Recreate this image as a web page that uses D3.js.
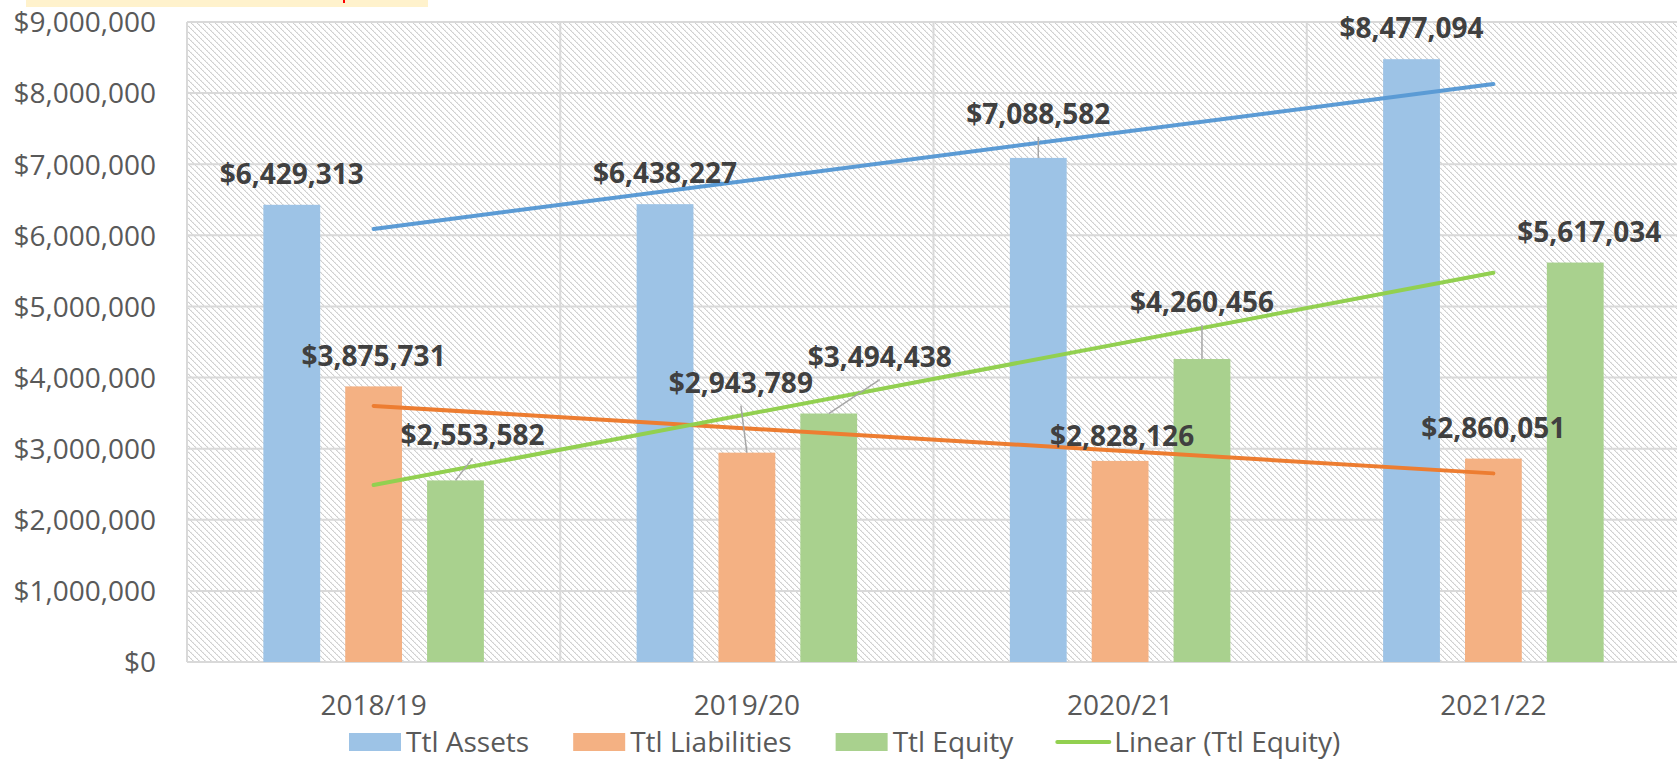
<!DOCTYPE html>
<html>
<head>
<meta charset="utf-8">
<script src="https://cdn.jsdelivr.net/npm/d3@7"></script>
<style>
  html, body { margin: 0; padding: 0; background: #fff; }
  svg { display: block; }
</style>
</head>
<body>
<svg id="chart" width="1677" height="761"></svg>
<script>
// ---------------- data ----------------
const categories = ["2018/19", "2019/20", "2020/21", "2021/22"];
const seriesNames = ["Ttl Assets", "Ttl Liabilities", "Ttl Equity"];
const assets = [6429313, 6438227, 7088582, 8477094];
const liabilities = [3875731, 2943789, 2828126, 2860051];
const equity = [2553582, 3494438, 4260456, 5617034];
const yTicks = [0, 1000000, 2000000, 3000000, 4000000, 5000000, 6000000, 7000000, 8000000, 9000000];
const trendLegendLabel = "Linear (Ttl Equity)";

// ---------------- styling / layout ----------------
const barColors = ["#9DC3E6", "#F4B183", "#A9D18E"];
const trendColors = ["#5B9BD5", "#ED7D31", "#92D050"];
// manual data-label shifts (pixels, relative to default outside-end position)
const labelShiftAssets = [[0, 0], [0, 0], [0, -13], [0, 0]];
const labelShiftLiabilities = [[0, 1], [-6, -39], [2, 6], [0, 0]];
const labelShiftEquity = [[17, -14], [51, -26], [0, -26], [14, 0]];

const series = [
  { name: seriesNames[0], values: assets, color: barColors[0], trend: trendColors[0], shift: labelShiftAssets },
  { name: seriesNames[1], values: liabilities, color: barColors[1], trend: trendColors[1], shift: labelShiftLiabilities },
  { name: seriesNames[2], values: equity, color: barColors[2], trend: trendColors[2], shift: labelShiftEquity }
];

const svg = d3.select("#chart");
const plot = { left: 187, right: 1680, top: 22, bottom: 662 };

const x0 = d3.scaleBand().domain(categories).range([plot.left, plot.right]).paddingInner(0).paddingOuter(0);
const x1 = d3.scaleBand().domain(seriesNames).range([0, x0.bandwidth()]).paddingInner(0.306).paddingOuter(0.933);
const y = d3.scaleLinear().domain([0, 9000000]).range([plot.bottom, plot.top]);

// top decorative header strip (cut off above the visible area)
svg.append("rect").attr("x", 26).attr("y", 0).attr("width", 402).attr("height", 7).attr("fill", "#FFF2CC");
svg.append("rect").attr("x", 343).attr("y", 0).attr("width", 2).attr("height", 3).attr("fill", "#FF0000");

// pattern background (light downward diagonal)
const defs = svg.append("defs");
const pat = defs.append("pattern").attr("id", "hatch").attr("patternUnits", "userSpaceOnUse")
  .attr("width", 6).attr("height", 6);
pat.append("rect").attr("width", 6).attr("height", 6).attr("fill", "#ffffff");
for (let r = 0; r < 6; r++) {
  pat.append("rect").attr("x", r).attr("y", r).attr("width", 1).attr("height", 1).attr("fill", "#d0d0d0");
  pat.append("rect").attr("x", (r + 1) % 6).attr("y", r).attr("width", 1).attr("height", 1)
    .attr("fill", r % 2 === 0 ? "#e6e6e6" : "#f6f6f6");
}

svg.append("rect").attr("x", plot.left).attr("y", plot.top)
  .attr("width", plot.right - plot.left).attr("height", plot.bottom - plot.top)
  .attr("fill", "url(#hatch)");

// gridlines
const grid = svg.append("g").attr("stroke", "#D9D9D9").attr("stroke-width", 2);
yTicks.forEach(t => {
  grid.append("line").attr("x1", plot.left).attr("x2", plot.right).attr("y1", y(t)).attr("y2", y(t));
});
categories.forEach(c => {
  grid.append("line").attr("x1", x0(c)).attr("x2", x0(c)).attr("y1", plot.top).attr("y2", plot.bottom);
});

// y axis labels
const yAxis = d3.axisLeft(y).tickValues(yTicks).tickFormat(d3.format("$,.0f")).tickSize(0).tickPadding(0);
const yg = svg.append("g").attr("transform", `translate(156,0)`).call(yAxis);
yg.select(".domain").remove();
yg.selectAll("text").attr("font-family", "'Open Sans', sans-serif").attr("font-size", 28)
  .attr("fill", "#595959").attr("dy", "0.35em");

// x axis labels
const xAxis = d3.axisBottom(x0).tickSize(0).tickPadding(0);
const xg = svg.append("g").attr("transform", `translate(0,715)`).call(xAxis);
xg.select(".domain").remove();
xg.selectAll("text").attr("font-family", "'Open Sans', sans-serif").attr("font-size", 28)
  .attr("fill", "#595959").attr("dy", "0");

// bars
series.forEach(s => {
  svg.append("g").selectAll("rect").data(s.values).join("rect")
    .attr("x", (d, i) => x0(categories[i]) + x1(s.name))
    .attr("y", d => y(d))
    .attr("width", x1.bandwidth())
    .attr("height", d => y(0) - y(d))
    .attr("fill", s.color);
});

// linear trendlines (least squares on x = 1..n)
function linearFit(vals) {
  const n = vals.length;
  const xs = vals.map((_, i) => i + 1);
  const mx = d3.mean(xs), my = d3.mean(vals);
  let num = 0, den = 0;
  xs.forEach((xv, i) => { num += (xv - mx) * (vals[i] - my); den += (xv - mx) * (xv - mx); });
  const b = num / den, a = my - b * mx;
  return xv => a + b * xv;
}
const xCenter = i => x0(categories[i]) + x0.bandwidth() / 2;
series.forEach(s => {
  const f = linearFit(s.values);
  const n = s.values.length;
  svg.append("line")
    .attr("x1", xCenter(0)).attr("y1", y(f(1)))
    .attr("x2", xCenter(n - 1)).attr("y2", y(f(n)))
    .attr("stroke", s.trend).attr("stroke-width", 4).attr("stroke-linecap", "round");
});

// data labels with leader lines
const fmt = d3.format("$,");
series.forEach(s => {
  s.values.forEach((v, i) => {
    const bx = x0(categories[i]) + x1(s.name) + x1.bandwidth() / 2;
    const by = y(v);
    const [dx, dy] = s.shift[i];
    const lx = bx + dx;
    const ly = by - 21 + dy;
    if (Math.abs(dy) > 8 || Math.abs(dx) > 20) {
      svg.append("line").attr("x1", bx).attr("y1", by).attr("x2", lx).attr("y2", ly + 13)
        .attr("stroke", "#A6A6A6").attr("stroke-width", 1.5);
    }
    svg.append("text").attr("x", lx).attr("y", ly).attr("text-anchor", "middle")
      .attr("font-family", "'Open Sans', sans-serif").attr("font-weight", "bold").attr("font-size", 28)
      .attr("fill", "#404040").text(fmt(v));
  });
});

// legend
const legend = svg.append("g");
let lxPos = 349;
const legY = 733;
const legendItems = [
  { label: seriesNames[0], color: barColors[0], type: "rect" },
  { label: seriesNames[1], color: barColors[1], type: "rect" },
  { label: seriesNames[2], color: barColors[2], type: "rect" },
  { label: trendLegendLabel, color: trendColors[2], type: "line" }
];
legendItems.forEach(it => {
  if (it.type === "rect") {
    legend.append("rect").attr("x", lxPos).attr("y", legY).attr("width", 52).attr("height", 18).attr("fill", it.color);
  } else {
    legend.append("line").attr("x1", lxPos).attr("x2", lxPos + 52).attr("y1", legY + 9).attr("y2", legY + 9)
      .attr("stroke", it.color).attr("stroke-width", 4).attr("stroke-linecap", "round");
  }
  const t = legend.append("text").attr("x", lxPos + 57).attr("y", 752)
    .attr("font-family", "'Open Sans', sans-serif").attr("font-size", 28).attr("fill", "#595959").text(it.label);
  lxPos += 57 + t.node().getComputedTextLength() + 44;
});
</script>
</body>
</html>
